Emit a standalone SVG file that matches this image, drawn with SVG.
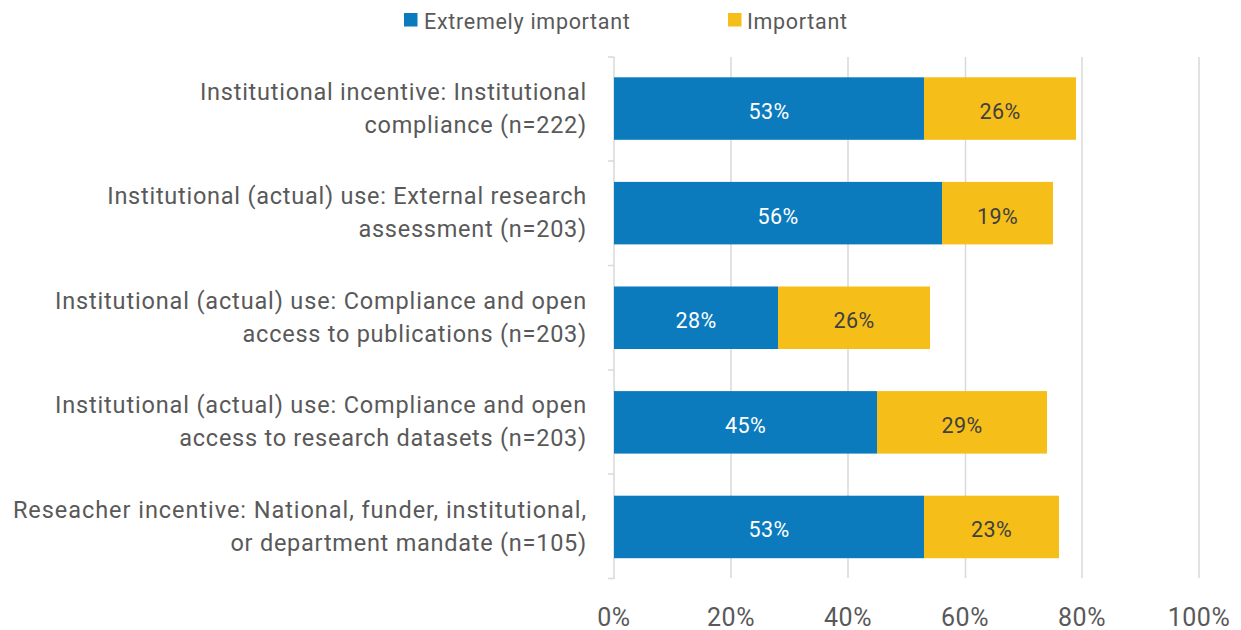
<svg xmlns="http://www.w3.org/2000/svg" width="1241" height="630" viewBox="0 0 1241 630">
<style>
text{font-family:Roboto,"Liberation Sans",sans-serif}
.cat{font-size:23.5px;fill:#595959;text-anchor:end;letter-spacing:0.75px}
.ax{font-size:25px;fill:#595959;text-anchor:middle;letter-spacing:0.5px}
.lg{font-size:21.5px;fill:#595959;letter-spacing:0.7px}
.vb{font-size:21.5px;fill:#ffffff;text-anchor:middle;letter-spacing:0.4px}
.vy{font-size:21.5px;fill:#404040;text-anchor:middle;letter-spacing:0.4px}
.b{fill:#0C7BBD}
.y{fill:#F5BE19}
.grid{stroke:#D9D9D9;stroke-width:1.5}
</style>
<rect width="1241" height="630" fill="#ffffff"/>
<g id="legend">
<rect x="404" y="13" width="13.5" height="13.5" class="b"/>
<text x="424" y="29" class="lg">Extremely important</text>
<rect x="728" y="13" width="13.5" height="13.5" class="y"/>
<text x="747" y="29" class="lg">Important</text>
</g>
<g id="gridlines">
<line x1="731" y1="57" x2="731" y2="578" class="grid"/>
<line x1="848" y1="57" x2="848" y2="578" class="grid"/>
<line x1="965.5" y1="57" x2="965.5" y2="578" class="grid"/>
<line x1="1082" y1="57" x2="1082" y2="578" class="grid"/>
<line x1="1199" y1="57" x2="1199" y2="578" class="grid"/>
</g>
<g id="axis">
<line x1="614" y1="57" x2="614" y2="579" class="grid"/>
<line x1="608" y1="57" x2="614" y2="57" class="grid"/>
<line x1="608" y1="161" x2="614" y2="161" class="grid"/>
<line x1="608" y1="265.5" x2="614" y2="265.5" class="grid"/>
<line x1="608" y1="370" x2="614" y2="370" class="grid"/>
<line x1="608" y1="474" x2="614" y2="474" class="grid"/>
<line x1="608" y1="578.5" x2="614" y2="578.5" class="grid"/>
<text x="614" y="626" class="ax">0%</text>
<text x="731" y="626" class="ax">20%</text>
<text x="848" y="626" class="ax">40%</text>
<text x="965" y="626" class="ax">60%</text>
<text x="1082" y="626" class="ax">80%</text>
<text x="1199" y="626" class="ax">100%</text>
</g>
<g id="row1">
<text x="587" y="99.5" class="cat">Institutional incentive: Institutional</text>
<text x="587" y="132.5" class="cat">compliance (n=222)</text>
<rect x="614" y="77.3" width="310" height="62.5" class="b"/>
<rect x="924" y="77.3" width="152" height="62.5" class="y"/>
<text x="769" y="119" class="vb">53%</text>
<text x="1000" y="119" class="vy">26%</text>
</g>
<g id="row2">
<text x="587" y="204.1" class="cat">Institutional (actual) use: External research</text>
<text x="587" y="237.1" class="cat">assessment (n=203)</text>
<rect x="614" y="181.9" width="328" height="62.5" class="b"/>
<rect x="942" y="181.9" width="111" height="62.5" class="y"/>
<text x="778" y="223.6" class="vb">56%</text>
<text x="997.5" y="223.6" class="vy">19%</text>
</g>
<g id="row3">
<text x="587" y="308.7" class="cat" style="letter-spacing:0.85px">Institutional (actual) use: Compliance and open</text>
<text x="587" y="341.7" class="cat">access to publications (n=203)</text>
<rect x="614" y="286.5" width="164" height="62.5" class="b"/>
<rect x="778" y="286.5" width="152" height="62.5" class="y"/>
<text x="696" y="328.2" class="vb">28%</text>
<text x="854" y="328.2" class="vy">26%</text>
</g>
<g id="row4">
<text x="587" y="413.3" class="cat" style="letter-spacing:0.85px">Institutional (actual) use: Compliance and open</text>
<text x="587" y="446.3" class="cat">access to research datasets (n=203)</text>
<rect x="614" y="391.1" width="263" height="62.5" class="b"/>
<rect x="877" y="391.1" width="170" height="62.5" class="y"/>
<text x="745.5" y="432.8" class="vb">45%</text>
<text x="962" y="432.8" class="vy">29%</text>
</g>
<g id="row5">
<text x="587" y="518.4" class="cat" style="letter-spacing:0.95px">Reseacher incentive: National, funder, institutional,</text>
<text x="587" y="551.4" class="cat">or department mandate (n=105)</text>
<rect x="614" y="495.7" width="310" height="62.5" class="b"/>
<rect x="924" y="495.7" width="135" height="62.5" class="y"/>
<text x="769" y="537.4" class="vb">53%</text>
<text x="991.5" y="537.4" class="vy">23%</text>
</g>
</svg>
